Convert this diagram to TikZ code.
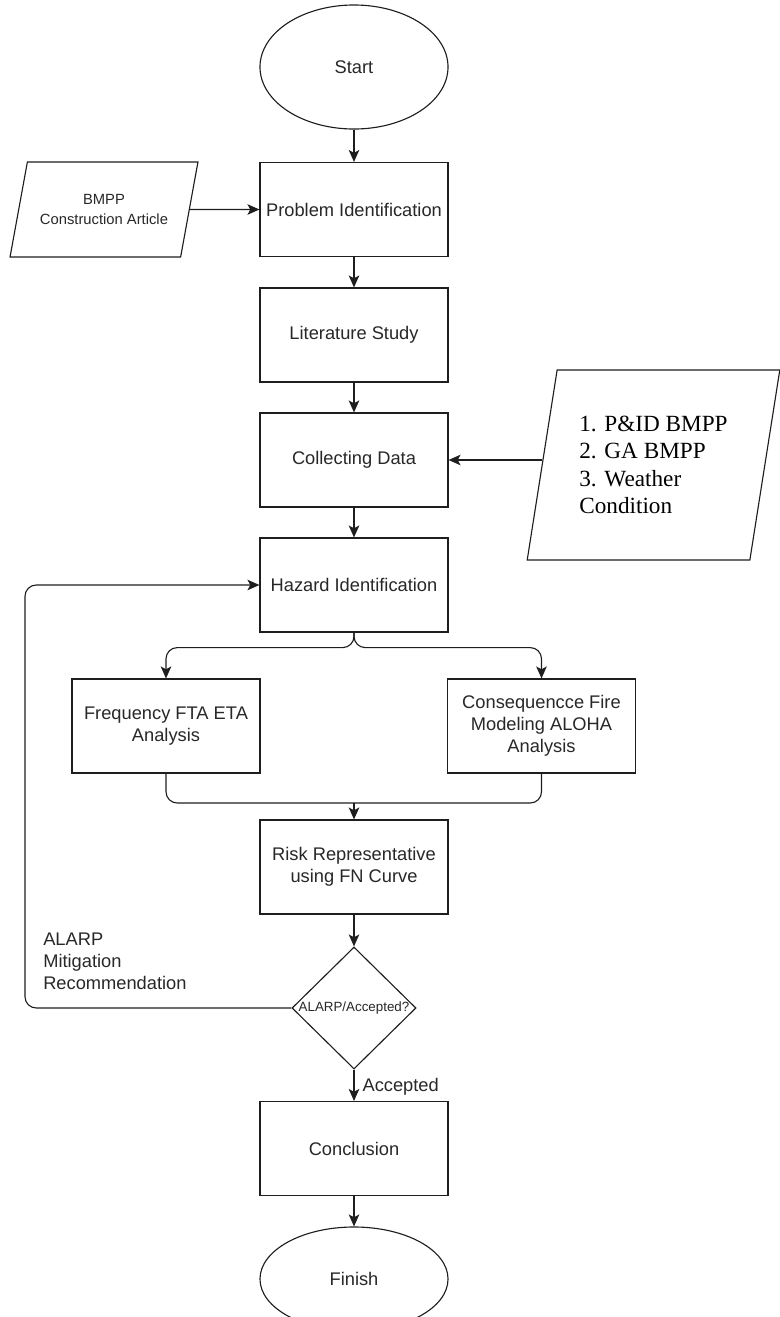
\documentclass[tikz,border=0pt]{standalone}
\usepackage{fontspec}
\setmainfont{Liberation Sans}
\newfontfamily\serifa{Liberation Serif}
\usetikzlibrary{arrows.meta,shapes.geometric}
\definecolor{trazo}{RGB}{30,30,30}
\definecolor{texto}{RGB}{40,40,40}
\tikzset{
  proceso/.style={rectangle,draw=trazo,line width=0.8pt,fill=white,align=center,
    minimum width=4.7cm,minimum height=2.35cm,inner sep=2pt,
    font=\fontsize{13}{15.5}\selectfont,text=texto},
  terminal/.style={proceso,ellipse},
  decision/.style={proceso,diamond,minimum width=3.1cm,minimum height=3.05cm,inner sep=0pt,
    font=\fontsize{9.5}{11}\selectfont},
  entrada/.style={proceso,trapezium,trapezium stretches=true,
    trapezium left angle=67,trapezium right angle=113},
  flecha/.style={-{Stealth[length=8.5pt,width=7.5pt,inset=2pt]},trazo,line width=0.8pt},
  linea/.style={trazo,line width=0.8pt},
  etiqueta/.style={font=\fontsize{13}{15.5}\selectfont,text=texto,align=left,inner sep=0pt},
}
\begin{document}
\begin{tikzpicture}[x=0.025cm,y=-0.025cm]
  \useasboundingbox (0,0) rectangle (780,1317);
  \clip (0,0) rectangle (780,1317);
  % main column
  \node[terminal,minimum height=3.1cm] (inicio) at (354,67) {Start};
  \node[proceso] (prob) at (354,209.5) {Problem Identification};
  \node[proceso] (lit) at (354,335) {Literature Study};
  \node[proceso] (datos) at (354,460) {Collecting Data};
  \node[proceso] (haz) at (354,585) {Hazard Identification};
  \node[proceso] (freq) at (166,726) {Frequency FTA ETA\\Analysis};
  \node[proceso] (cons) at (541.5,726) {Consequencce Fire\\Modeling ALOHA\\Analysis};
  \node[proceso] (riesgo) at (354,867) {Risk Representative\\using FN Curve};
  \node[decision] (dec) at (354,1008) {\makebox[0pt]{ALARP/Accepted?}};
  \node[proceso] (concl) at (354,1148.5) {Conclusion};
  \node[terminal,minimum height=2.6cm] (fin) at (354,1279) {Finish};
  % inputs
  \node[entrada,minimum width=4.7cm,minimum height=2.375cm,font=\fontsize{10.5}{14}\selectfont]
    (articulo) at (104,209.5) {BMPP\\Construction Article};
  \node[entrada,minimum width=6.325cm,minimum height=4.75cm,trapezium left angle=77,
    trapezium right angle=103,align=left,font=\serifa\fontsize{16.5}{19.5}\selectfont,text=black]
    (insumo) at (653.5,465) {1. P\&ID BMPP\\2. GA BMPP\\3. Weather\\Condition\hspace*{0.4cm}};
  \node[etiqueta,anchor=west] (alarp) at (43,961) {ALARP\\Mitigation\\Recommendation};
  % connectors
  \draw[flecha] (inicio) -- (prob);
  \draw[flecha] (articulo) -- (prob);
  \draw[flecha] (prob) -- (lit);
  \draw[flecha] (lit) -- (datos);
  \draw[flecha] (insumo.west |- datos.east) -- (datos.east);
  \draw[flecha] (datos) -- (haz);
  \draw[flecha,rounded corners=8pt] (haz.south) -- ++(0,15) -| (freq.north);
  \draw[flecha,rounded corners=8pt] (haz.south) -- ++(0,15) -| (cons.north);
  \coordinate (union) at (354,803);
  \draw[linea,rounded corners=8pt] (freq.south) |- (union);
  \draw[linea,rounded corners=8pt] (cons.south) |- (union);
  \draw[flecha] (union) -- (riesgo.north);
  \draw[flecha] (riesgo) -- (dec);
  \coordinate (retorno) at (25,585);
  \draw[flecha,rounded corners=8pt] (dec.west) -| (retorno) -- (haz.west);
  \draw[flecha] (dec) -- (concl) node[etiqueta,anchor=west,pos=0.55,xshift=0.2cm] {Accepted};
  \draw[flecha] (concl) -- (fin);
\end{tikzpicture}
\end{document}
